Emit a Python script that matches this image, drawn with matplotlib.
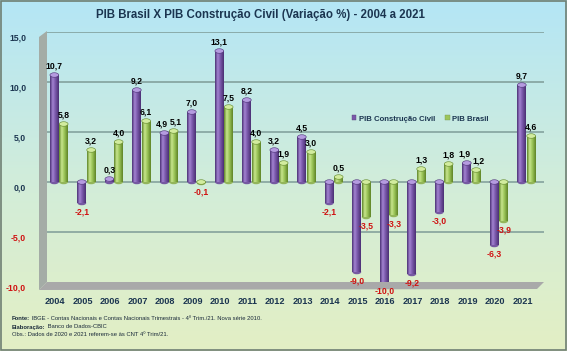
import numpy as np
import matplotlib
matplotlib.use("Agg")
import matplotlib.pyplot as plt
import matplotlib.colors as mcolors
from matplotlib.patches import Polygon, Ellipse, Rectangle
from matplotlib.transforms import ScaledTranslation

# ---------------- data ----------------
years = [str(y) for y in range(2004, 2022)]
construcao = [10.7, -2.1, 0.3, 9.2, 4.9, 7.0, 13.1, 8.2, 3.2, 4.5, -2.1, -9.0,
              -10.0, -9.2, -3.0, 1.9, -6.3, 9.7]
brasil = [5.8, 3.2, 4.0, 6.1, 5.1, -0.1, 7.5, 4.0, 1.9, 3.0, 0.5, -3.5,
          -3.3, 1.3, 1.8, 1.2, -3.9, 4.6]
yticks = [-10, -5, 0, 5, 10, 15]
series_names = ["PIB Construção Civil", "PIB Brasil"]
title = "PIB Brasil X PIB Construção Civil (Variação %) - 2004 a 2021"
foot1_b, foot1 = "Fonte:", " IBGE - Contas Nacionais e Contas Nacionais Trimestrais - 4º Trim./21. Nova série 2010."
foot2_b, foot2 = "Elaboração:", " Banco de Dados-CBIC"
foot3 = "Obs.: Dados de 2020 e 2021 referem-se às CNT 4º Trim/21."

# ---------------- style ----------------
plt.rcParams["font.family"] = ["Liberation Sans", "DejaVu Sans"]
NAVY = "#1B3550"
RED = "#D01010"

W, H = 567, 351
fig = plt.figure(figsize=(W / 100, H / 100), dpi=100)


def fx(px):
    return px / W


def fy(py):
    return 1 - py / H


# background gradient
bg = fig.add_axes([0, 0, 1, 1], zorder=-10)
t = np.linspace(0, 1, 300)[:, None, None]
c_top = np.array(mcolors.to_rgb("#B4E6F6"))
c_mid = np.array(mcolors.to_rgb("#D3EDD8"))
c_bot = np.array(mcolors.to_rgb("#E3EFC4"))
img = np.where(t < 0.55, c_top * (1 - t / 0.55) + c_mid * (t / 0.55),
               c_mid * (1 - (t - 0.55) / 0.45) + c_bot * ((t - 0.55) / 0.45))
bg.imshow(img, aspect="auto", extent=[0, 1, 0, 1], origin="upper")
bg.set_xlim(0, 1)
bg.set_ylim(0, 1)
bg.axis("off")
bg.add_patch(Rectangle((0.002, 0.003), 0.996, 0.994, fill=False,
                       edgecolor="#6F7F73", linewidth=1.2, transform=bg.transAxes))

# 3D wall and floor (decoration)
wall = Polygon([(fx(39), fy(37)), (fx(47), fy(31)), (fx(47), fy(282)), (fx(39), fy(290))],
               closed=True, transform=fig.transFigure, facecolor="#A4ACA6",
               edgecolor="none", zorder=-5)
floor = Polygon([(fx(39), fy(290)), (fx(47), fy(282)), (fx(544), fy(282)), (fx(537), fy(289))],
                closed=True, transform=fig.transFigure, facecolor="#A9A9A9",
                edgecolor="none", zorder=-5)
fig.patches.extend([wall, floor])

# main axes
c0, step = 59, 27.5
ax = fig.add_axes([fx(47), fy(282), fx(544) - fx(47), fy(32) - fy(282)])
ax.patch.set_alpha(0)
x = np.arange(len(years))
xlim = ((47 - c0) / step, (544 - c0) / step)
ylim = (-10, 15)

for v in yticks[1:]:
    ax.axhline(v, color="#7E9C98", linewidth=1.1, zorder=1)

bw = 0.32
off = 0.17


def cyl_cmap(dark, light, mid):
    return mcolors.LinearSegmentedColormap.from_list(
        "c", [(0, dark), (0.3, light), (0.6, mid), (1, dark)])


specs = [
    (construcao, -off, cyl_cmap("#4A2F73", "#A384D2", "#7A58AA"), "#7A58AA", "#B59BE0", -1),
    (brasil, off, cyl_cmap("#5E8427", "#C8E68E", "#9CC559"), "#9CC559", "#D2EC9E", 1),
]
grad = np.linspace(0, 1, 64)[None, :]
for vals, o, cmap, body, capc, side in specs:
    bars = ax.bar(x + o, vals, bw, color=body, zorder=3, linewidth=0)
    for i, (b, v) in enumerate(zip(bars, vals)):
        x0, x1 = b.get_x(), b.get_x() + b.get_width()
        y0, y1 = min(0, v), max(0, v)
        im = ax.imshow(grad, cmap=cmap, aspect="auto", extent=[x0, x1, y0, y1],
                       zorder=3.5, interpolation="bilinear")
        im.set_clip_path(b)
        xc = x0 + b.get_width() / 2
        ax.add_patch(Ellipse((xc, y0), b.get_width(), 0.45, facecolor=cmap(0.15),
                             edgecolor="none", zorder=3.4))
        ax.add_patch(Ellipse((xc, y1), b.get_width(), 0.45, facecolor=capc,
                             edgecolor=cmap(0.0), linewidth=0.4, zorder=3.8))
        # nudge labels apart when the two bars of a year are nearly equal
        a, c = construcao[i], brasil[i]
        dx = 1.6 * side if (a * c > 0 and abs(a - c) < 1.0) else 0
        lab = f"{v:.1f}".replace(".", ",")
        if v >= 0:
            ax.annotate(lab, (xc, v), xytext=(dx, 3.5), textcoords="offset points",
                        ha="center", va="bottom", fontsize=6.2, fontweight="bold",
                        color="black", zorder=6)
        else:
            ax.annotate(lab, (xc, v), xytext=(dx, -3.5), textcoords="offset points",
                        ha="center", va="top", fontsize=6.2, fontweight="bold",
                        color=RED, zorder=6)

ax.set_xlim(*xlim)
ax.set_ylim(*ylim)
for s in ax.spines.values():
    s.set_visible(False)

ax.set_yticks(yticks)
ax.set_yticklabels([f"{v:.1f}".replace(".", ",") for v in yticks])
ax.tick_params(axis="y", length=0, pad=15)
for lab, v in zip(ax.get_yticklabels(), yticks):
    lab.set_color(RED if v < 0 else NAVY)
    lab.set_fontweight("bold")
    lab.set_fontsize(6.2)
    lab.set_transform(lab.get_transform() + ScaledTranslation(0, -0.05, fig.dpi_scale_trans))

ax.set_xticks(x)
ax.set_xticklabels(years)
ax.tick_params(axis="x", length=0, pad=11)
for lab in ax.get_xticklabels():
    lab.set_color(NAVY)
    lab.set_fontweight("bold")
    lab.set_fontsize(6.6)
    lab.set_transform(lab.get_transform() + ScaledTranslation(-0.04, 0, fig.dpi_scale_trans))

# legend
handles = [Rectangle((0, 0), 1, 1, facecolor=specs[0][3], edgecolor="#5A4A7A", linewidth=0.3),
           Rectangle((0, 0), 1, 1, facecolor=specs[1][3], edgecolor="#7A9A5A", linewidth=0.3)]
leg = fig.legend(handles, series_names, loc="center left",
                 bbox_to_anchor=(fx(345), fy(119)), ncol=2, frameon=False,
                 handlelength=0.55, handleheight=0.55, handletextpad=0.35,
                 columnspacing=1.3, prop={"weight": "bold", "size": 5.6})
for txt in leg.get_texts():
    txt.set_color(NAVY)

# title
fig.text(fx(261), fy(15), title, ha="center", va="center", fontsize=8.3,
         fontweight="bold", color=NAVY)

# footer
fs = 4.2
ink = "#1A2A3A"
t1 = fig.text(fx(12), fy(319), foot1_b, fontsize=fs, fontweight="bold", color=ink,
              va="center", ha="left")
t2 = fig.text(fx(12), fy(327), foot2_b, fontsize=fs, fontweight="bold", color=ink,
              va="center", ha="left")
ax_ann = fig.add_axes([0, 0, 1, 1], zorder=10)
ax_ann.axis("off")
ax_ann.annotate(foot1, xy=(1, 0.5), xycoords=t1, va="center", ha="left",
                fontsize=fs, color=ink)
ax_ann.annotate(foot2, xy=(1, 0.5), xycoords=t2, va="center", ha="left",
                fontsize=fs, color=ink)
fig.text(fx(12), fy(335), foot3, fontsize=fs, color=ink, va="center", ha="left")

fig.savefig("out.png", dpi=100)
